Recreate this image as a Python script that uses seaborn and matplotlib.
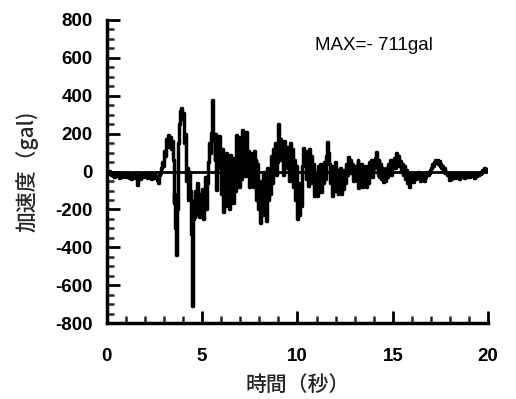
import numpy as np
import pandas as pd
import matplotlib
matplotlib.use("Agg")
import matplotlib.pyplot as plt
from matplotlib.ticker import MultipleLocator
import seaborn as sns

# 加速度の値 (gal), 0.05秒ごと, 1行 = 1秒
DT = 0.05
acc_rows = [
    [0, -10, 5, -15, -20, -5, -25, -10, -30, -15, -20, -5, -25, -35, -15, -20, -30, -10, -25, -15],
    [-30, -20, -10, -35, -25, -40, -20, -30, -15, -25, -35, -20, -70, -30, -20, -40, -25, -10, -30, -20],
    [-25, -15, -35, -20, -30, -10, -40, -25, -20, -35, -15, -30, -25, -45, -60, -20, -10, 20, 50, 30],
    [110, 80, 170, 130, 195, 150, 180, 120, 160, 60, -165, -120, -300, -440, -200, 150, 250, 320, 335, 280],
    [310, 150, 200, -50, 20, -150, 0, -100, -330, -711, -250, -150, -240, -100, -220, -60, -180, -240, -120, -200],
    [-90, -250, -150, -30, -200, -60, 50, 150, 100, 205, 380, 180, 160, 60, 200, -95, 150, 100, 190, 20],
    [-120, 120, -215, 80, -180, 100, -150, 60, -200, 90, -130, 50, -165, 70, -100, 150, 195, 60, 180, -80],
    [120, -40, 220, 100, 200, -25, 210, 80, 110, -80, 100, -60, 90, -80, 110, -20, 60, -150, 40, -200],
    [-100, -270, -50, -230, 0, -200, -50, -260, 20, -150, -30, -120, 80, -60, 120, 40, 150, -20, 100, 50],
    [250, 120, 170, 60, 140, -20, 160, 80, 130, 20, 115, -50, 150, 40, 120, -80, 60, -150, 30, -200],
    [-250, -120, -230, -60, -180, 30, 125, 60, 110, -40, 90, -75, 120, 20, 80, -60, 40, -130, -40, -110],
    [-20, -130, 30, -80, 40, -110, 20, -60, 50, -40, 80, 155, 100, 40, -60, 30, -130, 20, -100, 50],
    [-80, 10, -120, 0, -100, 20, -120, -30, -90, 10, -60, 40, -20, 75, 30, 60, -10, 40, -50, 20],
    [-30, 30, -50, 63, -85, 20, -60, 40, -80, 10, -40, 30, -80, 20, -60, 50, 10, 60, -30, 40],
    [20, 70, 105, 50, -20, 60, -30, 40, -40, 20, -55, 10, -50, 20, -30, 40, 10, 60, -20, 50],
    [30, 70, 20, 100, 40, 80, 50, 30, 55, 0, 40, -20, 30, -40, 10, -60, -10, -80, -30, -50],
    [-20, -55, -10, -40, -15, -35, 0, -30, -20, -50, -10, -40, -20, -50, -30, -10, 0, -20, -5, 10],
    [20, 40, 30, 50, 63, 45, 60, 40, 55, 30, 40, 20, 30, 0, 20, -10, 0, -20, -10, -45],
    [-20, -40, -10, -30, -15, -35, -10, -25, -20, -40, -15, -30, -10, -25, -20, -35, -15, -30, -25, -10],
    [-30, -15, -25, -10, -20, -35, -15, -25, -10, -20, -5, -15, 0, -10, 10, 5, 20, 10, 15, 5],
]
x_ticks = [0, 5, 10, 15, 20]
y_ticks = [-800, -600, -400, -200, 0, 200, 400, 600, 800]
max_label = "MAX=- 711gal"

acc = np.concatenate([np.array(r, dtype=float) for r in acc_rows])
df = pd.DataFrame({"time": np.arange(len(acc)) * DT, "acc": acc})

sns.set_theme(style="ticks")
plt.rcParams["font.family"] = ["Liberation Sans", "Noto Sans CJK JP", "DejaVu Sans"]
plt.rcParams["axes.unicode_minus"] = False

fig = plt.figure(figsize=(5.16, 3.99), dpi=100)
ax = fig.add_axes([0.207, 0.19, 0.739, 0.76])

ax.axhline(0, color="black", lw=2.0, zorder=1)
sns.lineplot(data=df, x="time", y="acc", ax=ax, color="black", lw=2.5,
             estimator=None, sort=False, drawstyle="steps-post", zorder=2)

ax.set_xlim(0, 20)
ax.set_ylim(-800, 800)
ax.set_xticks(x_ticks)
ax.set_yticks(y_ticks)
ax.xaxis.set_minor_locator(MultipleLocator(1))
ax.yaxis.set_minor_locator(MultipleLocator(50))
ax.tick_params(axis="both", which="major", direction="in", length=9, width=2,
               labelsize=13.5, colors="black")
ax.tick_params(axis="both", which="minor", direction="in", length=5, width=1.8)
ax.tick_params(axis="x", which="major", pad=18)
ax.tick_params(axis="y", which="major", pad=10)
for lbl in ax.get_xticklabels() + ax.get_yticklabels():
    lbl.set_fontweight("bold")

sns.despine(ax=ax)
for side in ["left", "bottom"]:
    ax.spines[side].set_linewidth(2.5)
    ax.spines[side].set_color("black")

ax.set_xlabel("時間（秒）", fontsize=15, family=["Noto Sans CJK JP"],
              fontweight="medium", labelpad=6)
ax.set_ylabel("加速度（gal)", fontsize=15, family=["Noto Sans CJK JP"],
              fontweight="medium", labelpad=12)

ax.text(10.9, 665, max_label, fontsize=13.5, va="center", ha="left", color="black")

fig.savefig("out.png", dpi=100)
